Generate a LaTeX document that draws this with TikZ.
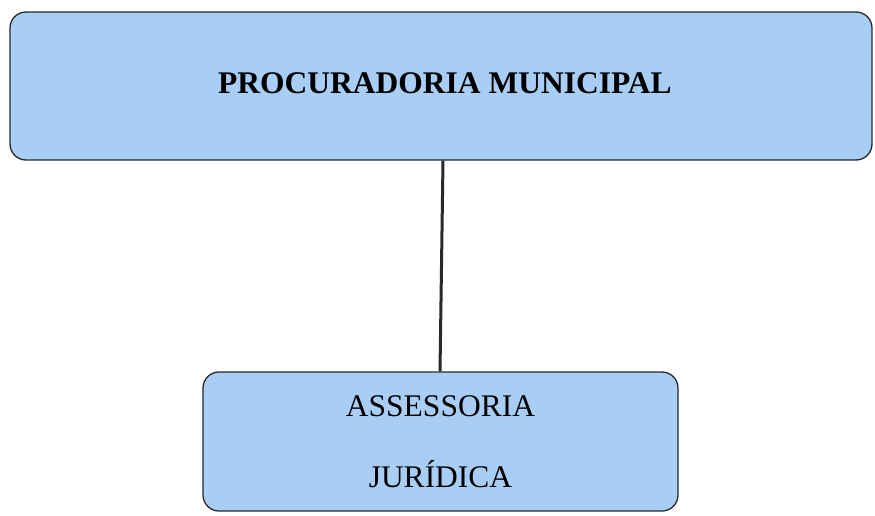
\documentclass[tikz,border=0pt]{standalone}
\usepackage{fontspec}
\setmainfont{Liberation Serif}
\definecolor{boxblue}{RGB}{168,206,245}
\definecolor{edge}{RGB}{40,40,45}
\begin{document}
\begin{tikzpicture}[x=1pt,y=1pt,
  orgbox/.style={draw=edge, line width=1.3pt, fill=boxblue, rounded corners=16pt, inner sep=0pt, align=center},
  link/.style={draw=edge, line width=3pt}]
\useasboundingbox (0,0) rectangle (875,515);
\node[orgbox, minimum width=862pt, minimum height=148pt, font=\fontsize{31.5}{36}\selectfont\bfseries] (proc) at (441,429) {\hspace*{8pt}\raisebox{5pt}{PROCURADORIA MUNICIPAL}};
\node[orgbox, minimum width=475pt, minimum height=139pt, font=\fontsize{31.5}{36}\selectfont] (ass) at (440.5,73.5) {ASSESSORIA\\[35pt]JURÍDICA};
\draw[link] ([xshift=2pt]proc.south) -- ([xshift=-0.5pt]ass.north);
\end{tikzpicture}
\end{document}
